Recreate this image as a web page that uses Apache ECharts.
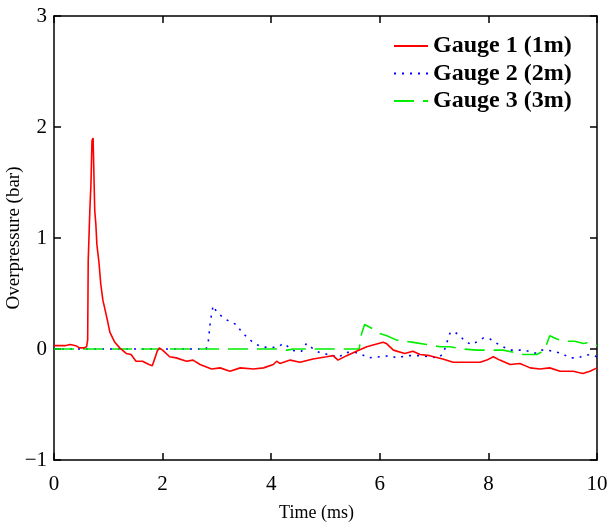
<!DOCTYPE html>
<html><head><meta charset="utf-8">
<script src="https://cdn.jsdelivr.net/npm/echarts@6/dist/echarts.min.js"></script>
<style>html,body{margin:0;padding:0;background:#fff}#c{width:615px;height:527px}</style>
</head><body><div id="c"></div>
<script>
var xTicks = [0, 2, 4, 6, 8, 10];
var yTicks = [-1, 0, 1, 2, 3];
var seriesNames = ['Gauge 1 (1m)', 'Gauge 2 (2m)', 'Gauge 3 (3m)'];

var g1t = [0,0.2,0.3,0.4,0.47,0.55,0.6,0.62,0.63,0.66,0.68,0.70,0.72,0.75,0.77,0.79,0.83,0.86,0.90,0.97,1.03,1.12,1.21,1.33,1.42,1.51,1.63,1.75,1.81,1.86,1.90,1.94,2.0,2.13,2.25,2.44,2.56,2.69,2.90,3.06,3.24,3.43,3.67,3.86,4.04,4.10,4.16,4.35,4.53,4.77,5.02,5.14,5.23,5.39,5.57,5.76,5.91,6.06,6.12,6.25,6.46,6.61,6.74,6.92,7.16,7.35,7.60,7.85,7.97,8.09,8.21,8.40,8.58,8.77,8.95,9.13,9.32,9.56,9.74,9.87,10];
var g1v = [0.03,0.03,0.04,0.03,0.01,0.01,0.02,0.08,0.79,1.25,1.48,1.88,1.90,1.25,1.13,0.94,0.77,0.59,0.44,0.29,0.15,0.06,0.01,-0.04,-0.05,-0.11,-0.11,-0.14,-0.15,-0.08,-0.02,0.01,-0.01,-0.07,-0.08,-0.11,-0.10,-0.14,-0.18,-0.17,-0.20,-0.17,-0.18,-0.17,-0.14,-0.11,-0.13,-0.10,-0.12,-0.09,-0.07,-0.06,-0.10,-0.06,-0.02,0.02,0.04,0.06,0.05,-0.01,-0.04,-0.02,-0.05,-0.06,-0.09,-0.12,-0.12,-0.12,-0.10,-0.07,-0.10,-0.14,-0.13,-0.17,-0.18,-0.17,-0.20,-0.20,-0.22,-0.20,-0.17];

var g2t = [0,2.80,2.84,2.88,2.93,3.0,3.15,3.27,3.36,3.46,3.55,3.64,3.73,3.83,3.98,4.13,4.19,4.25,4.35,4.44,4.56,4.65,4.75,4.84,4.93,5.05,5.14,5.24,5.33,5.42,5.54,5.67,5.79,6.0,6.19,6.31,6.5,6.74,6.92,7.08,7.17,7.23,7.29,7.35,7.45,7.57,7.69,7.81,7.91,8.03,8.12,8.27,8.40,8.52,8.67,8.80,8.89,8.98,9.07,9.20,9.35,9.50,9.66,9.75,9.87,10];
var g2v = [0,0,0.06,0.25,0.39,0.33,0.27,0.24,0.22,0.15,0.11,0.07,0.04,0.02,0.01,0.02,0.04,0.05,0.0,-0.02,-0.02,0.05,0.01,-0.02,-0.04,-0.05,-0.06,-0.08,-0.04,-0.03,-0.03,-0.05,-0.08,-0.07,-0.06,-0.08,-0.06,-0.06,-0.07,-0.08,-0.04,0.05,0.14,0.16,0.13,0.07,0.04,0.07,0.10,0.09,0.06,0.02,-0.01,-0.01,-0.01,-0.03,-0.04,-0.01,-0.01,-0.02,-0.04,-0.08,-0.08,-0.06,-0.05,-0.07];

var g3t = [0,4.1,4.2,4.3,4.4,5.62,5.66,5.72,5.88,6.0,6.13,6.31,6.62,6.86,7.11,7.29,7.54,7.78,8.09,8.27,8.46,8.64,8.89,9.01,9.07,9.13,9.26,9.38,9.59,9.75,9.87,10];
var g3v = [0,0,-0.01,-0.01,0,0,0.13,0.22,0.18,0.14,0.12,0.08,0.06,0.04,0.02,0.02,0.0,-0.01,-0.01,-0.01,-0.03,-0.05,-0.05,-0.02,0.04,0.12,0.09,0.07,0.07,0.05,0.06,0.03];

function zip(t, v) { return t.map(function (x, i) { return [x, v[i]]; }); }

var FONT = '"Liberation Serif","Times New Roman",serif';
var axisLine = { show: true, onZero: false, lineStyle: { color: '#000', width: 1.5 } };
var tick = { show: true, inside: true, length: 7, lineStyle: { color: '#000', width: 1.5 } };

var chart = echarts.init(document.getElementById('c'), null, { renderer: 'canvas' });
chart.setOption({
  animation: false,
  backgroundColor: '#fff',
  grid: { left: 54, right: 18, top: 16, bottom: 67, containLabel: false, outerBoundsMode: 'none' },
  legend: {
    orient: 'vertical', left: 393, top: 34, padding: 0,
    itemWidth: 34, itemHeight: 20, itemGap: 3.5,
    itemStyle: { opacity: 0 },
    textStyle: { fontFamily: FONT, fontWeight: 'bold', fontSize: 24, color: '#000' },
    data: seriesNames
  },
  xAxis: [{
    type: 'value', min: xTicks[0], max: xTicks[xTicks.length - 1], interval: 2,
    axisLine: axisLine, axisTick: tick, splitLine: { show: false },
    axisLabel: { fontFamily: FONT, fontSize: 21, color: '#000', margin: 14 },
    name: 'Time (ms)', nameLocation: 'middle', nameGap: 44,
    nameTextStyle: { fontFamily: FONT, fontSize: 18, color: '#000', padding: [0, 18, 0, 0] }
  }, {
    type: 'value', position: 'top', min: 0, max: 10, interval: 2,
    axisLine: axisLine, axisTick: tick, splitLine: { show: false }, axisLabel: { show: false }
  }],
  yAxis: [{
    type: 'value', min: yTicks[0], max: yTicks[yTicks.length - 1], interval: 1,
    axisLine: axisLine, axisTick: tick, splitLine: { show: false },
    axisLabel: { fontFamily: FONT, fontSize: 21, color: '#000', margin: 7,
      formatter: function (v) { return v < 0 ? '\u2212' + Math.abs(v) : String(v); } },
    name: 'Overpressure (bar)', nameLocation: 'middle', nameGap: 30, nameMoveOverlap: false,
    nameTextStyle: { fontFamily: FONT, fontSize: 19, color: '#000' }
  }, {
    type: 'value', position: 'right', min: -1, max: 3, interval: 1,
    axisLine: axisLine, axisTick: tick, splitLine: { show: false }, axisLabel: { show: false }
  }],
  series: [{
    name: seriesNames[0], type: 'line', data: zip(g1t, g1v), symbol: 'none',
    lineStyle: { color: '#ff0000', width: 1.6, type: 'solid' }, itemStyle: { color: '#ff0000' }, z: 3
  }, {
    name: seriesNames[1], type: 'line', data: zip(g2t, g2v), symbol: 'none',
    lineStyle: { color: '#0000ff', width: 1.6, type: [2, 6] }, itemStyle: { color: '#0000ff' }, z: 2
  }, {
    name: seriesNames[2], type: 'line', data: zip(g3t, g3v), symbol: 'none',
    lineStyle: { color: '#00ee00', width: 1.6, type: [20, 9] }, itemStyle: { color: '#00ee00' }, z: 2
  }]
});
</script></body></html>
